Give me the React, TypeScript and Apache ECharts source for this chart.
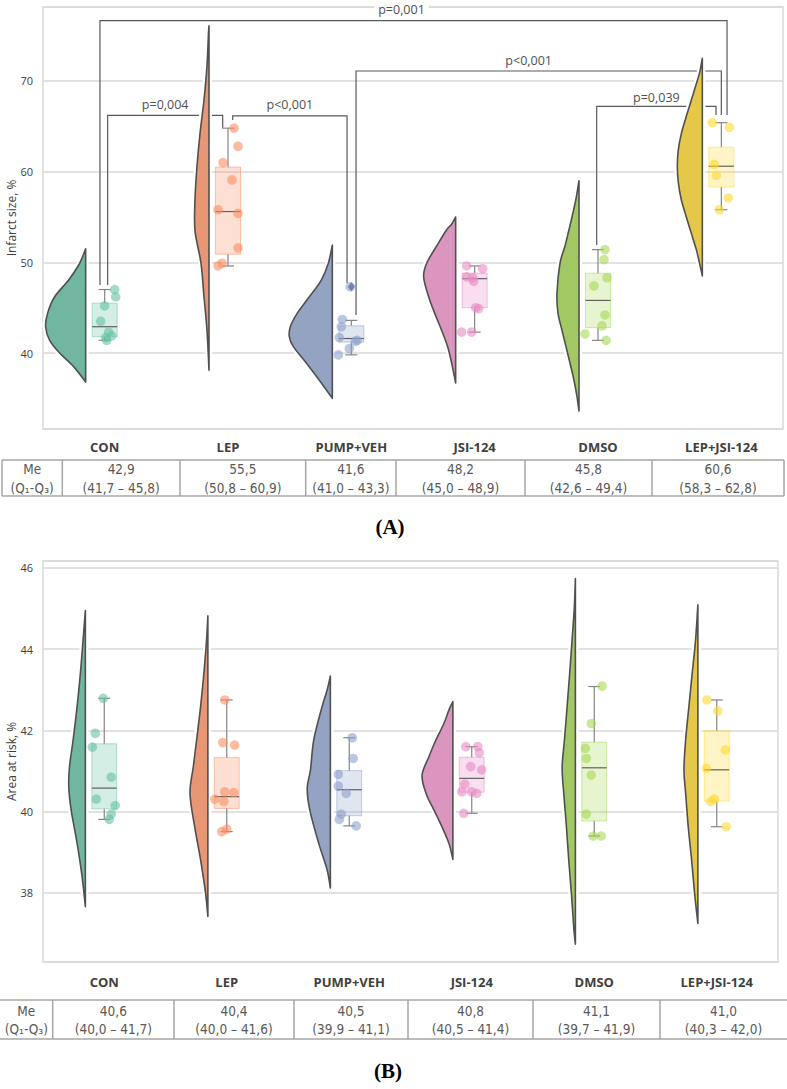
import React, { useEffect, useRef } from "react";
import * as echarts from "echarts";

// ---------------- DATA ----------------
const categories = ["CON", "LEP", "PUMP+VEH", "JSI-124", "DMSO", "LEP+JSI-124"];

// (A) Infarct size, % — individual values per group
const infarctPoints = [
  [47.0, 46.2, 45.2, 43.5, 42.3, 41.9, 41.7, 41.4],
  [64.8, 62.8, 61.0, 59.1, 55.8, 55.4, 51.6, 49.9, 49.6],
  [47.3, 43.7, 42.9, 41.7, 41.4, 41.3, 40.5, 39.8],
  [49.6, 49.3, 48.4, 48.3, 47.9, 45.0, 44.9, 42.3, 42.3],
  [51.4, 50.3, 48.3, 47.4, 44.2, 43.0, 42.1, 41.4],
  [65.4, 64.9, 60.8, 59.6, 57.1, 55.8],
];
// box: [whisker low, Q1, median, Q3, whisker high]
const infarctBox = [
  [41.4, 41.8, 42.9, 45.5, 47.0],
  [49.6, 50.9, 55.6, 60.5, 64.8],
  [39.8, 41.2, 41.6, 43.0, 43.6],
  [42.3, 45.0, 48.2, 48.8, 49.6],
  [41.4, 42.8, 45.8, 48.8, 51.4],
  [55.8, 58.3, 60.6, 62.7, 65.4],
];
const infarctOutliers = [[], [], [47.3], [], [], []];
// violin density profile: [value, relative density]
const infarctViolin = [
  [[51.5, 0], [49.9, 6], [48.05, 17], [46.2, 31], [44.4, 38], [42.9, 40], [41.4, 36], [40.0, 26], [38.5, 12], [36.8, 0]],
  [[76.1, 0], [75.3, 0.5], [71.7, 2], [67.9, 5], [64.2, 9], [60.6, 12], [56.9, 14], [53.5, 14], [49.9, 8], [46.2, 5], [42.5, 2], [38.1, 0]],
  [[51.9, 0], [49.9, 4], [48.05, 11], [46.2, 23], [44.4, 35], [42.9, 42], [41.8, 43], [40.7, 39], [38.9, 26], [37.0, 13], [35.0, 0]],
  [[55.0, 0], [54.2, 4], [53.6, 9], [51.8, 19], [49.9, 29], [48.4, 32], [46.2, 27], [44.4, 21], [42.5, 14], [40.7, 8], [38.9, 4], [36.7, 0]],
  [[59.0, 0], [57.0, 3], [55.0, 7], [53.6, 10], [51.8, 14], [49.9, 19], [46.6, 22], [44.4, 21], [42.5, 17], [40.7, 13], [38.9, 9], [37.0, 5], [35.2, 2], [33.6, 0]],
  [[72.5, 0], [71.0, 2.5], [69.7, 6], [67.9, 11], [66.1, 16], [64.2, 21], [62.4, 24], [60.6, 25], [58.8, 24], [56.9, 21], [55.0, 16], [53.2, 11], [51.4, 6], [50.0, 3], [48.5, 0]],
];
const infarctMedian = [42.9, 55.5, 41.6, 48.2, 45.8, 60.6];
const infarctQ1 = [41.7, 50.8, 41.0, 45.0, 42.6, 58.3];
const infarctQ3 = [45.8, 60.9, 43.3, 48.9, 49.4, 62.8];

// significance brackets (chart A)
const pLabels = ["p=0,001", "p=0,004", "p<0,001", "p<0,001", "p=0,039"];
const pFrom = [0, 0, 1, 2, 4];
const pTo = [5, 1, 2, 5, 5];
const pLevel = [76.65, 66.2, 66.15, 71.1, 67.2];
const pFromEnd = [47.5, 47.5, 65.7, 44.2, 51.9];
const pToEnd = [66.25, 64.85, 47.7, 66.25, 66.25];
const pLabelValue = [77.83, 67.4, 67.4, 72.3, 68.2];

// (B) Area at risk, %
const riskPoints = [
  [42.79, 41.93, 41.59, 40.85, 40.31, 40.15, 39.94, 39.81],
  [42.75, 41.70, 41.64, 40.49, 40.47, 40.31, 40.25, 39.57, 39.51],
  [41.82, 41.31, 40.92, 40.63, 40.45, 39.94, 39.81, 39.65],
  [41.6, 41.6, 41.45, 41.11, 41.03, 40.68, 40.49, 40.49, 40.45, 39.96],
  [43.09, 42.17, 41.56, 41.31, 40.9, 39.94, 39.40, 39.40],
  [42.75, 42.48, 41.52, 41.07, 40.25, 40.31, 39.63],
];
const riskBox = [
  [39.81, 40.07, 40.58, 41.67, 42.79],
  [39.51, 40.08, 40.37, 41.33, 42.75],
  [39.65, 39.9, 40.54, 41.01, 41.82],
  [39.96, 40.48, 40.82, 41.34, 41.6],
  [39.40, 39.77, 41.08, 41.71, 43.08],
  [39.63, 40.26, 41.03, 41.99, 42.75],
];
const riskOutliers = [[], [], [], [], [], []];
const riskViolin = [
  [[44.95, 0], [44.23, 2.3], [43.41, 5], [42.59, 8.3], [41.77, 12.3], [41.1, 16], [40.6, 16.7], [40.04, 14.3], [39.22, 8.3], [38.4, 3.3], [37.66, 0]],
  [[44.82, 0], [44.23, 1.3], [43.41, 4], [42.59, 7.3], [41.77, 11.3], [41.1, 14.7], [40.45, 18], [39.63, 13.3], [38.81, 7.3], [37.99, 2.3], [37.42, 0]],
  [[43.34, 0], [42.99, 3.3], [42.59, 8.3], [41.77, 16.7], [41.03, 20], [40.58, 23.3], [40.04, 20.7], [39.22, 11.7], [38.57, 3.3], [38.12, 0]],
  [[42.71, 0], [42.5, 4], [42.17, 9], [41.77, 17], [41.36, 24], [40.9, 31], [40.45, 27], [40.04, 19], [39.63, 11], [39.22, 4], [38.83, 0]],
  [[45.74, 0], [45.05, 1], [44.23, 3.3], [43.41, 5.7], [42.59, 8.3], [41.77, 11], [41.1, 13.3], [40.45, 11.7], [39.63, 9], [38.81, 6.7], [37.99, 4], [37.17, 1.7], [36.74, 0]],
  [[45.09, 0], [44.23, 2.3], [43.41, 5.7], [42.59, 9], [41.77, 12.3], [41.03, 14], [40.45, 12.3], [39.63, 9.7], [38.81, 6.3], [37.99, 3.3], [37.25, 0]],
];
const riskMedian = [40.6, 40.4, 40.5, 40.8, 41.1, 41.0];
const riskQ1 = [40.0, 40.0, 39.9, 40.5, 39.7, 40.3];
const riskQ3 = [41.7, 41.6, 41.1, 41.4, 41.9, 42.0];

// ---------------- LAYOUT / STYLE ----------------
const REF_BAND = 123.3;
const VIOLIN_GAP = 19; // flat edge of violin, left of category centre
const BOX_HALF = 12.5;
const CAP_HALF = 6;
const POINT_R = 4.8;

// jitter of points (px at reference band width)
const infarctJitter = [
  [10, 11, 0, -4, 4, 7, 1, 2],
  [6, 10, -5, 4, -10, 10, 10, -6, -10],
  [-1, -9, -10, -12, 6, 4, -2, -13],
  [-8, 8, -8, -2, -1, 1, 4, -13, -3],
  [7, 6, 9, -4, 7, 4, -13, 8],
  [-9, 8, -7, -5, 7, -2],
];
const riskJitter = [
  [-1, -9, -12, 7, -8, 11, 7, 5],
  [-2, -4, 8, -2, 7, -12, -3, 0, -5],
  [3, 4, -11, -11, -3, -8, -10, 7],
  [-6, 6, 7.5, -1, 10, -7, -10, 0, 5, -8],
  [8, -3, -9, -8, -3, -8, -1, 7],
  [-10, 1, 8.5, -10.5, -6, -2.5, 9.5],
];
const pFromShift = [-4.7, 3, 4.7, 4.7, -1.3];
const pToShift = [5.7, -5.3, -4.3, 0, -5.3];
const pLabelShift = [-12, 0, 0, -10, 0];

const violinColors = ["#71b6a1", "#e99675", "#95a3c3", "#db96c0", "#a2c864", "#e5c849"];
const pointColors = ["#66c2a5", "#fc8d62", "#8da0cb", "#e78ac3", "#a6d854", "#ffd92f"];
const SANS = "'Open Sans', 'Noto Sans', sans-serif";
const NARROW = "'Liberation Sans Narrow', 'DejaVu Sans Condensed', 'Roboto', sans-serif";
const GRID_COLOR = "#d9d9d9";
const TABLE_LINE = "#a6a6a6";

const hexToRgba = (hex: string, a: number) => {
  const n = parseInt(hex.slice(1), 16);
  return `rgba(${(n >> 16) & 255},${(n >> 8) & 255},${n & 255},${a})`;
};
const fmt = (v: number) => v.toFixed(1).replace(".", ",");

function catmullPath(pts: number[][]): string {
  let d = `M${pts[0][0]},${pts[0][1]}`;
  for (let i = 0; i < pts.length - 1; i++) {
    const p0 = pts[i - 1] || pts[i];
    const p1 = pts[i];
    const p2 = pts[i + 1];
    const p3 = pts[i + 2] || p2;
    const c1x = p1[0] + (p2[0] - p0[0]) / 6;
    const c1y = p1[1] + (p2[1] - p0[1]) / 6;
    const c2x = p2[0] - (p3[0] - p1[0]) / 6;
    const c2y = p2[1] - (p3[1] - p1[1]) / 6;
    d += ` C${c1x},${c1y} ${c2x},${c2y} ${p2[0]},${p2[1]}`;
  }
  return d;
}

type ChartData = {
  points: number[][];
  jitter: number[][];
  box: number[][];
  outliers: number[][];
  violin: number[][][];
};

function chartSeries(g: number, d: ChartData): any[] {
  const catData = categories.map((_, i) => [i, d.box[i][2]]);
  const base = {
    type: "custom",
    coordinateSystem: "cartesian2d",
    xAxisIndex: g,
    yAxisIndex: g,
    silent: true,
    clip: false,
    data: catData,
  };
  const violins = {
    ...base,
    z: 3,
    renderItem: (params: any, api: any) => {
      const i = params.dataIndex;
      const s = api.size([1, 0])[0] / REF_BAND;
      const cx = api.coord([i, d.box[i][2]])[0];
      const edge = cx - VIOLIN_GAP * s;
      const pts = d.violin[i].map(([v, w]) => [edge - w * s, api.coord([i, v])[1]]);
      const path = catmullPath(pts) + ` L${edge},${pts[0][1]} Z`;
      return {
        type: "group",
        children: [
          { type: "path", shape: { pathData: path }, style: { fill: "none", stroke: "#ffffff", lineWidth: 6, lineJoin: "round" } },
          { type: "path", shape: { pathData: path }, style: { fill: violinColors[i], stroke: "#505050", lineWidth: 1.6, lineJoin: "round" } },
        ],
      };
    },
  };
  const boxes = {
    ...base,
    z: 4,
    renderItem: (params: any, api: any) => {
      const i = params.dataIndex;
      const s = api.size([1, 0])[0] / REF_BAND;
      const [lo, q1, med, q3, hi] = d.box[i];
      const cx = api.coord([i, med])[0];
      const y = (v: number) => api.coord([i, v])[1];
      const bh = BOX_HALF * s;
      const ch = CAP_HALF * s;
      const wStyle = { stroke: "#858585", lineWidth: 1.2 };
      return {
        type: "group",
        children: [
          { type: "line", shape: { x1: cx, y1: y(q3), x2: cx, y2: y(hi) }, style: wStyle },
          { type: "line", shape: { x1: cx, y1: y(q1), x2: cx, y2: y(lo) }, style: wStyle },
          { type: "line", shape: { x1: cx - ch, y1: y(hi), x2: cx + ch, y2: y(hi) }, style: wStyle },
          { type: "line", shape: { x1: cx - ch, y1: y(lo), x2: cx + ch, y2: y(lo) }, style: wStyle },
          {
            type: "rect",
            shape: { x: cx - bh, y: y(q3), width: 2 * bh, height: y(q1) - y(q3) },
            style: { fill: hexToRgba(pointColors[i], 0.28), stroke: hexToRgba(pointColors[i], 0.5), lineWidth: 1 },
          },
          { type: "line", shape: { x1: cx - bh, y1: y(med), x2: cx + bh, y2: y(med) }, style: { stroke: "#606060", lineWidth: 1.2 } },
          ...d.outliers[i].map((v) => ({
            type: "polygon",
            shape: { points: [[cx, y(v) - 4.5], [cx + 3.5, y(v)], [cx, y(v) + 4.5], [cx - 3.5, y(v)]] },
            style: { fill: "#4a5888" },
          })),
        ],
      };
    },
  };
  const points = {
    ...base,
    z: 5,
    renderItem: (params: any, api: any) => {
      const i = params.dataIndex;
      const s = api.size([1, 0])[0] / REF_BAND;
      const cx = api.coord([i, d.box[i][2]])[0];
      return {
        type: "group",
        children: d.points[i].map((v, k) => ({
          type: "circle",
          shape: { cx: cx + d.jitter[i][k] * s, cy: api.coord([i, v])[1], r: POINT_R },
          style: { fill: hexToRgba(pointColors[i], 0.6) },
        })),
      };
    },
  };
  return [violins, boxes, points];
}

const bracketSeries = {
  type: "custom",
  coordinateSystem: "cartesian2d",
  xAxisIndex: 0,
  yAxisIndex: 0,
  silent: true,
  clip: false,
  z: 2,
  data: pLabels.map((_, k) => [pFrom[k], pLevel[k]]),
  renderItem: (params: any, api: any) => {
    const k = params.dataIndex;
    const s = api.size([1, 0])[0] / REF_BAND;
    const x1 = api.coord([pFrom[k], pLevel[k]])[0] + pFromShift[k] * s;
    const x2 = api.coord([pTo[k], pLevel[k]])[0] + pToShift[k] * s;
    const yl = api.coord([pFrom[k], pLevel[k]])[1];
    const y1 = api.coord([pFrom[k], pFromEnd[k]])[1];
    const y2 = api.coord([pTo[k], pToEnd[k]])[1];
    const ty = api.coord([pFrom[k], pLabelValue[k]])[1];
    return {
      type: "group",
      children: [
        {
          type: "polyline",
          shape: { points: [[x1, y1], [x1, yl], [x2, yl], [x2, y2]] },
          style: { stroke: "#5a5a5a", lineWidth: 1.2, fill: "none" },
        },
        {
          type: "text",
          x: (x1 + x2) / 2 + pLabelShift[k] * s,
          y: ty,
          style: {
            text: pLabels[k],
            fill: "#505050",
            fontSize: 12.5,
            fontFamily: SANS,
            align: "center",
            verticalAlign: "middle",
            backgroundColor: k === 0 ? "#ffffff" : "transparent",
            padding: k === 0 ? [0, 4] : 0,
          },
        },
      ],
    };
  },
};

type TableCfg = {
  top: number;
  bottom: number;
  row1: number;
  row2: number;
  cols: number[];
  outer: boolean;
  me: number[];
  q1: number[];
  q3: number[];
};

function tableGraphics(t: TableCfg): any[] {
  const els: any[] = [];
  const left = t.cols[0];
  const right = t.cols[t.cols.length - 1];
  const lineStyle = { stroke: TABLE_LINE, lineWidth: 1.5 };
  els.push({ type: "line", shape: { x1: left, y1: t.top, x2: right, y2: t.top }, style: lineStyle });
  els.push({ type: "line", shape: { x1: left, y1: t.bottom, x2: right, y2: t.bottom }, style: lineStyle });
  t.cols.forEach((x, j) => {
    if (!t.outer && (j === 0 || j === t.cols.length - 1)) return;
    els.push({ type: "line", shape: { x1: x, y1: t.top, x2: x, y2: t.bottom }, style: lineStyle });
  });
  const txt = (text: string, x: number, y: number) => ({
    type: "text",
    x,
    y,
    style: { text, fill: "#595959", fontSize: 13.5, fontFamily: NARROW, align: "center", verticalAlign: "middle" },
  });
  const c0 = (t.cols[0] + t.cols[1]) / 2;
  els.push(txt("Me", c0, t.row1));
  els.push(txt("(Q\u2081-Q\u2083)", c0, t.row2));
  categories.forEach((_, i) => {
    const cx = (t.cols[i + 1] + t.cols[i + 2]) / 2;
    els.push(txt(fmt(t.me[i]), cx, t.row1));
    els.push(txt(`(${fmt(t.q1[i])} \u2013 ${fmt(t.q3[i])})`, cx, t.row2));
  });
  return els;
}

const panelLabel = (text: string, x: number, y: number) => ({
  type: "text",
  x,
  y,
  style: {
    text,
    fill: "#000000",
    fontSize: 21,
    fontWeight: "bold",
    fontFamily: "'Liberation Serif', 'DejaVu Serif', serif",
    align: "center",
    verticalAlign: "middle",
  },
});

const tickFormatter = (step: number) => (v: number) => {
  const r = Math.round(v / step) * step;
  return Math.abs(v - r) < 1e-6 ? String(r) : "";
};

function buildOption() {
  const xAxis = [0, 1].map((g) => ({
    type: "category",
    gridIndex: g,
    data: categories,
    boundaryGap: true,
    axisLine: { show: false },
    axisTick: { show: false },
    splitLine: { show: false },
    axisLabel: { color: "#404040", fontWeight: "bold", fontSize: 13, fontFamily: SANS, margin: g === 0 ? 11 : 13, interval: 0 },
  }));
  const yCommon = {
    type: "value",
    nameLocation: "middle",
    nameGap: 26,
    nameMoveOverlap: false,
    nameTextStyle: { color: "#404040", fontSize: 12, fontFamily: SANS },
    axisLine: { show: false },
    axisTick: { show: false },
    splitLine: { show: true, lineStyle: { color: GRID_COLOR, width: 1.5 } },
  };
  const yAxis = [
    {
      ...yCommon,
      gridIndex: 0,
      min: 31.62,
      max: 78.16,
      name: "Infarct size, %",
      axisLabel: { color: "#404040", fontSize: 11, fontFamily: SANS, margin: 10, formatter: tickFormatter(10) },
    },
    {
      ...yCommon,
      gridIndex: 1,
      min: 36.3,
      max: 46.17,
      name: "Area at risk, %",
      axisLabel: { color: "#404040", fontSize: 11, fontFamily: SANS, margin: 10, formatter: tickFormatter(2) },
    },
  ];
  const series = [
    bracketSeries,
    ...chartSeries(0, { points: infarctPoints, jitter: infarctJitter, box: infarctBox, outliers: infarctOutliers, violin: infarctViolin }),
    ...chartSeries(1, { points: riskPoints, jitter: riskJitter, box: riskBox, outliers: riskOutliers, violin: riskViolin }),
  ];
  const graphic = [
    ...tableGraphics({
      top: 460, bottom: 496, row1: 469, row2: 488,
      cols: [2, 62.3, 180, 305.7, 396, 525, 652, 784],
      outer: true, me: infarctMedian, q1: infarctQ1, q3: infarctQ3,
    }),
    ...tableGraphics({
      top: 1000, bottom: 1039, row1: 1011, row2: 1028.5,
      cols: [0, 52.7, 174, 294, 408, 533, 660, 787],
      outer: false, me: riskMedian, q1: riskQ1, q3: riskQ3,
    }),
    panelLabel("(A)", 390, 527),
    panelLabel("(B)", 388, 1071),
  ];
  const gridCommon = {
    show: true,
    borderColor: GRID_COLOR,
    borderWidth: 1.5,
    backgroundColor: "transparent",
    containLabel: false,
    outerBoundsMode: "none",
  };
  return {
    animation: false,
    backgroundColor: "#ffffff",
    textStyle: { fontFamily: SANS },
    grid: [
      { ...gridCommon, left: 43, top: 7, width: 740, height: 422 },
      { ...gridCommon, left: 43, top: 561, width: 735, height: 401 },
    ],
    xAxis,
    yAxis,
    series,
    graphic,
  };
}

export default function App() {
  const ref = useRef<HTMLDivElement>(null);
  useEffect(() => {
    if (!ref.current) return;
    const chart = echarts.init(ref.current, undefined, { renderer: "svg" });
    chart.setOption(buildOption() as any);
    return () => chart.dispose();
  }, []);
  return (
    <div
      ref={ref}
      style={{ position: "absolute", left: 0, top: 0, width: 787, height: 1089, background: "#fff" }}
    />
  );
}
